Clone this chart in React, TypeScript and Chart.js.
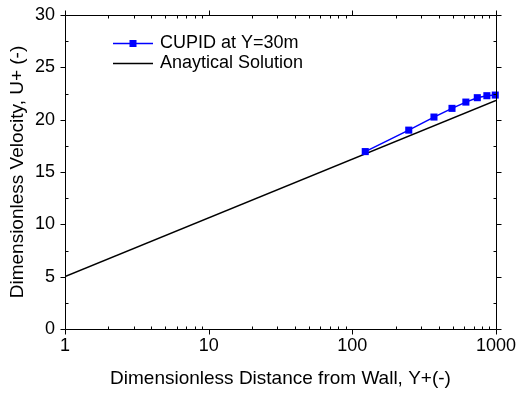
import React, { useEffect, useRef } from "react";
import { Chart, registerables } from "chart.js";

Chart.register(...registerables);

const cupidX = [123, 247, 370, 494, 617, 741, 864, 988];
const cupidU = [16.95, 19.0, 20.25, 21.08, 21.68, 22.1, 22.29, 22.35];
const analyticX = [1, 1000];
const analyticU = [5.0, 21.84];
const xTicks = [1, 10, 100, 1000];
const yTicks = [0, 5, 10, 15, 20, 25, 30];
const seriesNames = ["CUPID at Y=30m", "Anaytical Solution"];

const FONT = "'Liberation Sans', Arial, sans-serif";

const framePlugin = {
  id: "frame",
  afterDraw(chart: any) {
    const { ctx, chartArea } = chart;
    const xs = chart.scales.x;
    const ys = chart.scales.y;
    const L = Math.round(chartArea.left) + 0.5;
    const R = Math.round(chartArea.right) + 0.5;
    const T = Math.round(chartArea.top) + 0.5;
    const B = Math.round(chartArea.bottom) + 0.5;
    ctx.save();
    ctx.strokeStyle = "#000";
    ctx.lineWidth = 1;
    ctx.beginPath();
    ctx.rect(L, T, R - L, B - T);
    const major = 5;
    const minor = 3;
    for (let v = 0; v <= 30; v += 2.5) {
      const py = Math.round(ys.getPixelForValue(v)) + 0.5;
      const isMajor = v % 5 === 0;
      if (isMajor) {
        ctx.moveTo(L - major, py); ctx.lineTo(L, py);
        ctx.moveTo(R, py); ctx.lineTo(R + major, py);
      } else {
        ctx.moveTo(L, py); ctx.lineTo(L + minor, py);
        ctx.moveTo(R, py); ctx.lineTo(R - minor, py);
      }
    }
    for (let d = 1; d <= 1000; d *= 10) {
      for (let m = 1; m <= 9; m++) {
        const v = d * m;
        if (v > 1000) break;
        const px = Math.round(xs.getPixelForValue(v)) + 0.5;
        if (m === 1) {
          ctx.moveTo(px, B); ctx.lineTo(px, B + major);
          ctx.moveTo(px, T); ctx.lineTo(px, T - major);
        } else {
          ctx.moveTo(px, B); ctx.lineTo(px, B - minor);
          ctx.moveTo(px, T); ctx.lineTo(px, T + minor);
        }
      }
    }
    ctx.stroke();

    // legend
    const lx0 = 113, lx1 = 153, tx = 160;
    const rows = [43.5, 63.5];
    const colors = ["#0000ff", "#000000"];
    ctx.font = `18px ${FONT}`;
    ctx.textBaseline = "middle";
    ctx.textAlign = "left";
    rows.forEach((ry, i) => {
      ctx.strokeStyle = colors[i];
      ctx.lineWidth = 1.5;
      ctx.beginPath();
      ctx.moveTo(lx0, ry);
      ctx.lineTo(lx1, ry);
      ctx.stroke();
      if (i === 0) {
        ctx.fillStyle = colors[i];
        ctx.fillRect(133 - 3.5, ry - 3.5, 7, 7);
      }
      ctx.fillStyle = "#000";
      ctx.fillText(seriesNames[i], tx, ry);
    });
    ctx.restore();
  },
};

const zeroPad = (s: any) => {
  s.paddingTop = 0;
  s.paddingBottom = 0;
  s.paddingLeft = 0;
  s.paddingRight = 0;
};

export default function App() {
  const ref = useRef<HTMLCanvasElement | null>(null);
  useEffect(() => {
    document.body.style.margin = "0";
    const canvas = ref.current;
    if (!canvas) return;
    const chart = new Chart(canvas, {
      type: "line",
      data: {
        datasets: [
          {
            label: seriesNames[0],
            data: cupidX.map((x, i) => ({ x, y: cupidU[i] })),
            borderColor: "#0000ff",
            backgroundColor: "#0000ff",
            borderWidth: 1.5,
            pointStyle: "rect",
            pointRadius: 5,
            pointBorderWidth: 0,
            clip: false as any,
            order: 1,
          },
          {
            label: seriesNames[1],
            data: analyticX.map((x, i) => ({ x, y: analyticU[i] })),
            borderColor: "#000000",
            borderWidth: 1.5,
            pointRadius: 0,
            order: 2,
          },
        ],
      },
      options: {
        animation: false,
        responsive: true,
        maintainAspectRatio: false,
        layout: { padding: { top: 15, right: 21, left: 0, bottom: 0 } },
        plugins: { legend: { display: false }, tooltip: { enabled: false } },
        scales: {
          x: {
            type: "logarithmic",
            min: 1,
            max: 1000,
            grid: { display: false, drawTicks: false, tickLength: 0 },
            border: { display: false },
            afterBuildTicks: (s: any) => {
              s.ticks = xTicks.map((v) => ({ value: v, major: true }));
            },
            afterFit: (s: any) => {
              s.height = 65;
              zeroPad(s);
            },
            ticks: {
              autoSkip: false,
              maxRotation: 0,
              padding: 6,
              color: "#000",
              font: { family: FONT, size: 18 },
              callback: (v: any) => String(v),
            },
            title: {
              display: true,
              text: "Dimensionless Distance from Wall, Y+(-)",
              color: "#000",
              font: { family: FONT, size: 19 },
              padding: { top: 0, bottom: 4 },
            },
          },
          y: {
            type: "linear",
            min: 0,
            max: 30,
            grid: { display: false, drawTicks: false, tickLength: 0 },
            border: { display: false },
            afterBuildTicks: (s: any) => {
              s.ticks = yTicks.map((v) => ({ value: v }));
            },
            afterFit: (s: any) => {
              s.width = 65;
              zeroPad(s);
            },
            ticks: {
              padding: 10,
              color: "#000",
              font: { family: FONT, size: 18 },
            },
            title: {
              display: true,
              text: "Dimensionless Velocity, U+ (-)",
              color: "#000",
              font: { family: FONT, size: 19 },
              padding: { top: 6, bottom: 0 },
            },
          },
        },
      },
      plugins: [framePlugin],
    });
    return () => chart.destroy();
  }, []);
  return (
    <div style={{ width: 517, height: 394, position: "relative" }}>
      <canvas ref={ref} />
    </div>
  );
}
